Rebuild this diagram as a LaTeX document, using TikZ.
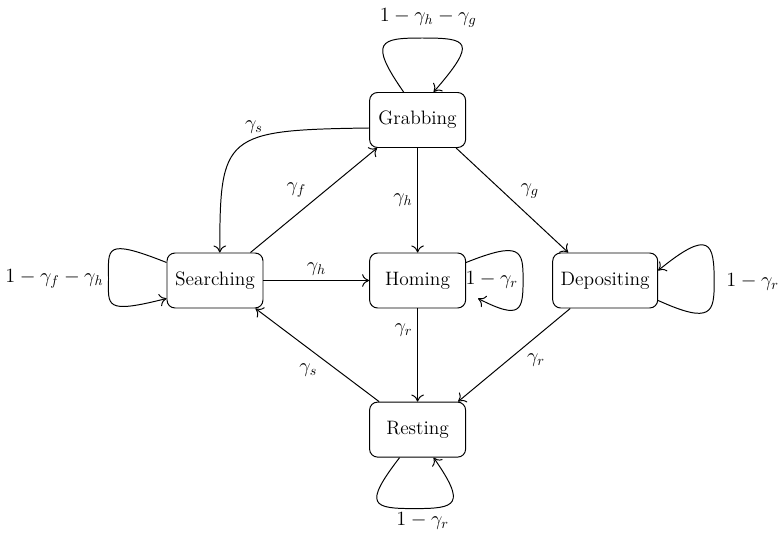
\documentclass[tikz,border=0pt]{standalone}
\usepackage{amsmath}
\usepackage{tikz}
\usetikzlibrary{arrows.meta}

\begin{document}
\begin{tikzpicture}[line width=0.7pt, >={To[length=5pt,width=9pt]},
    font=\fontsize{13.8}{16}\selectfont,
    state/.style={draw, rounded corners=0.2cm, minimum width=2.4cm, minimum height=1.375cm, inner sep=2pt}]
        \useasboundingbox (0,0) rectangle (19.475,-13.6);

        % States
        \node[state] (grab) at (10.44,-3) {Grabbing};
        \node[state] (search) at (5.375,-7.0125) {Searching};
        \node[state] (home) at (10.44,-7.0125) {Homing};
        \node[state, minimum width=2.625cm] (dep) at (15.13,-7.0125) {Depositing};
        \node[state] (rest) at (10.44,-10.74) {Resting};

        % Transitions
        \draw[->] ([yshift=-0.2cm]grab.west) .. controls +(-3.625,-0.05) and +(0,2.95) .. ([xshift=0.12cm]search.north)
            node[pos=0.4, above] {$\gamma_s$};
        \draw[->] ([xshift=-0.325cm]search.north east) -- ([xshift=0.2cm]grab.south west)
            node[pos=0.48, above left] {$\gamma_f$};
        \draw[->] (grab) -- (home) node[midway, left] {$\gamma_h$};
        \draw[->] ([xshift=-0.25cm]grab.south east) -- ([xshift=0.4cm]dep.north west)
            node[pos=0.53, above right] {$\gamma_g$};
        \draw[->] (search) -- (home) node[midway, above] {$\gamma_h$};
        \draw[->] (home) -- (rest) node[pos=0.23, left] {$\gamma_r$};
        \draw[->] ([xshift=0.45cm]dep.south west) -- ([xshift=-0.2cm]rest.north east)
            node[pos=0.43, below right] {$\gamma_r$};
        \draw[->] ([xshift=0.25cm]rest.north west) -- ([xshift=-0.2cm]search.south east)
            node[pos=0.46, below left] {$\gamma_s$};

        % Self loops
        \draw[->] ([xshift=-0.35cm]grab.north) .. controls +(-0.8875,1.275) and +(-1.05,0) .. ++(0.4625,1.35)
            node[above=4pt, xshift=0.15cm] {$1-\gamma_h-\gamma_g$}
            .. controls +(1.15,0) and +(1.1125,1.275) .. ([xshift=0.4cm]grab.north);
        \draw[->] ([yshift=0.45cm]search.west) .. controls +(-1.575,0.625) and +(0,0.75) .. ++(-1.45,-0.4)
            node[left] {$1-\gamma_f-\gamma_h$}
            .. controls +(0,-0.675) and +(-1.575,-0.4) .. ([yshift=-0.45cm]search.west);
        \draw[->] ([yshift=0.45cm]home.east) .. controls +(1.375,0.55) and +(0,0.725) .. ++(1.425,-0.425)
            node[left] {$1-\gamma_r$}
            .. controls +(0,-0.775) and +(1.075,-0.55) .. ([xshift=0.3cm,yshift=-0.45cm]home.east);
        \draw[->] ([yshift=-0.5cm]dep.east) .. controls +(1.35,-0.6125) and +(0,-0.75) .. ++(1.4,0.4625)
            node[right=5pt] {$1-\gamma_r$}
            .. controls +(0,0.975) and +(1.3,1.0625) .. ([yshift=0.25cm]dep.east);
        \draw[->] ([xshift=-0.45cm]rest.south) .. controls +(-0.925,-1.2) and +(-1.05,0) .. ++(0.375,-1.275)
            node[below=-1pt, xshift=0.2cm] {$1-\gamma_r$}
            .. controls +(1.05,0) and +(0.825,-1.1875) .. ([xshift=0.4cm]rest.south);
      \end{tikzpicture}
\end{document}
